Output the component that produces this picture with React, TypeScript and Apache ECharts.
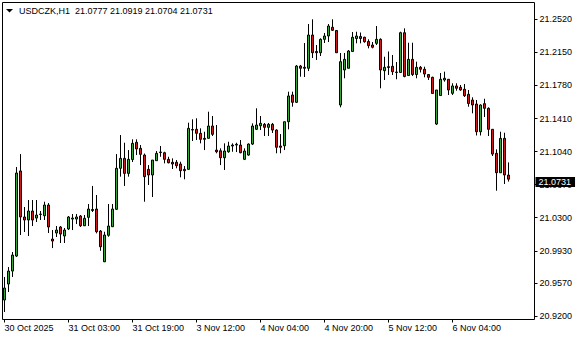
import { useEffect, useRef } from 'react';
import * as echarts from 'echarts';

const SYMBOL = 'USDCZK,H1';
const YEAR = '2025';

// trading hours shown per day (H1 bars)
const DAYS = [
  { day: '30 Oct', first: 11, last: 23 },
  { day: '31 Oct', first: 0, last: 22 },
  { day: '3 Nov', first: 0, last: 23 },
  { day: '4 Nov', first: 0, last: 23 },
  { day: '5 Nov', first: 0, last: 23 },
  { day: '6 Nov', first: 0, last: 18 },
];

const OPEN = [
  20.9379, 20.9558, 20.9703, 20.9871, 21.0823, 21.0308, 21.0274, 21.0375, 21.0296, 21.0336,
  21.0322, 21.0442, 21.0061, 21.0129, 21.0196, 21.0095, 21.0174, 21.0285, 21.0285, 21.0319,
  21.0210, 21.0304, 21.0392, 21.0397, 21.0151, 20.9807, 21.0103, 21.0199, 21.0394, 21.0853,
  21.0964, 21.0796, 21.0951, 21.1144, 21.1076, 21.1001, 21.0841, 21.0778, 21.0938, 21.1035,
  21.1027, 21.0953, 21.0920, 21.0920, 21.0901, 21.0841, 21.0841, 21.1281, 21.1289, 21.1244,
  21.1188, 21.1188, 21.1326, 21.1057, 21.1049, 21.0971, 21.1038, 21.1102, 21.1113, 21.1113,
  21.0953, 21.1001, 21.1124, 21.1289, 21.1329, 21.1345, 21.1311, 21.1345, 21.1281, 21.1102,
  21.1105, 21.1374, 21.1673, 21.1591, 21.1997, 21.1983, 21.1972, 21.2344, 21.2160, 21.2146,
  21.2296, 21.2333, 21.2431, 21.2395, 21.1561, 21.1953, 21.1972, 21.2160, 21.2305, 21.2328,
  21.2319, 21.2272, 21.2232, 21.2251, 21.2296, 21.1945, 21.1990, 21.1994, 21.1930, 21.1925,
  21.2370, 21.1891, 21.2072, 21.1902, 21.1983, 21.1961, 21.1902, 21.1871, 21.1348, 21.1667,
  21.1841, 21.1849, 21.1692, 21.1774, 21.1759, 21.1737, 21.1681, 21.1617, 21.1572, 21.1262,
  21.1576, 21.1524, 21.1289, 21.1020, 21.0803, 21.1188, 21.0777,
];

const HIGH = [
  20.9637, 20.9748, 20.9916, 21.0868, 21.1012, 21.0420, 21.0498, 21.0498, 21.0498, 21.0375,
  21.0479, 21.0464, 21.0162, 21.0207, 21.0207, 21.0185, 21.0319, 21.0341, 21.0341, 21.0330,
  21.0330, 21.0453, 21.0655, 21.0554, 21.0162, 21.0143, 21.0453, 21.0453, 21.1012, 21.1225,
  21.1139, 21.1057, 21.1177, 21.1177, 21.1113, 21.1018, 21.0889, 21.0945, 21.1046, 21.1102,
  21.1038, 21.0982, 21.0964, 21.0945, 21.0926, 21.0878, 21.1363, 21.1401, 21.1412, 21.1300,
  21.1262, 21.1486, 21.1438, 21.1337, 21.1076, 21.1132, 21.1150, 21.1132, 21.1139, 21.1169,
  21.1076, 21.1132, 21.1356, 21.1524, 21.1438, 21.1360, 21.1360, 21.1360, 21.1289, 21.1236,
  21.1374, 21.1710, 21.1710, 21.2009, 21.2009, 21.2255, 21.2467, 21.2520, 21.2232, 21.2307,
  21.2367, 21.2467, 21.2520, 21.2395, 21.2143, 21.2143, 21.2176, 21.2378, 21.2381, 21.2372,
  21.2325, 21.2296, 21.2266, 21.2445, 21.2307, 21.2101, 21.2160, 21.2121, 21.2042, 21.2381,
  21.2419, 21.2258, 21.2258, 21.2046, 21.1997, 21.1990, 21.1908, 21.1878, 21.1729, 21.1919,
  21.1934, 21.1849, 21.1804, 21.1804, 21.1785, 21.1796, 21.1729, 21.1647, 21.1617, 21.1569,
  21.1631, 21.1535, 21.1289, 21.1065, 21.1262, 21.1251, 21.0919,
];

const LOW = [
  20.9245, 20.9469, 20.9637, 20.9860, 21.0106, 21.0140, 21.0095, 21.0207, 21.0252, 21.0274,
  21.0274, 21.0129, 20.9960, 21.0084, 21.0017, 21.0017, 21.0162, 21.0162, 21.0229, 21.0196,
  21.0207, 21.0207, 21.0364, 21.0125, 20.9930, 20.9804, 21.0087, 21.0196, 21.0386, 21.0759,
  21.0655, 21.0759, 21.0923, 21.1001, 21.0889, 21.0479, 21.0666, 21.0531, 21.0938, 21.0982,
  21.0908, 21.0908, 21.0845, 21.0853, 21.0752, 21.0730, 21.0834, 21.1158, 21.1169, 21.1132,
  21.1057, 21.1188, 21.1214, 21.1021, 21.0889, 21.0834, 21.1027, 21.1038, 21.1035, 21.1021,
  21.0945, 21.0993, 21.1113, 21.1281, 21.1281, 21.1214, 21.1214, 21.1248, 21.1021, 21.1021,
  21.1057, 21.1289, 21.1542, 21.1583, 21.1878, 21.1874, 21.1941, 21.2087, 21.2065, 21.2109,
  21.2255, 21.2266, 21.2389, 21.2146, 21.1535, 21.1860, 21.1972, 21.2157, 21.2251, 21.2251,
  21.2258, 21.2195, 21.2195, 21.2232, 21.1748, 21.1841, 21.1897, 21.1897, 21.1849, 21.1919,
  21.1871, 21.1891, 21.1886, 21.1860, 21.1925, 21.1871, 21.1841, 21.1690, 21.1337, 21.1662,
  21.1822, 21.1673, 21.1673, 21.1721, 21.1721, 21.1651, 21.1542, 21.1468, 21.1220, 21.1220,
  21.1427, 21.1214, 21.0990, 21.0602, 21.0803, 21.0677, 21.0704,
];

const CLOSE = [
  20.9513, 20.9703, 20.9882, 21.0800, 21.0308, 21.0274, 21.0375, 21.0274, 21.0330, 21.0341,
  21.0442, 21.0196, 21.0039, 21.0162, 21.0117, 21.0162, 21.0308, 21.0296, 21.0308, 21.0210,
  21.0293, 21.0397, 21.0381, 21.0143, 20.9975, 21.0106, 21.0207, 21.0397, 21.0853, 21.0964,
  21.0796, 21.0953, 21.1132, 21.1069, 21.1009, 21.0759, 21.0778, 21.0945, 21.1020, 21.1029,
  21.0953, 21.0915, 21.0901, 21.0882, 21.0826, 21.0826, 21.1300, 21.1287, 21.1244, 21.1177,
  21.1177, 21.1326, 21.1233, 21.1038, 21.0971, 21.1046, 21.1102, 21.1113, 21.1121, 21.1027,
  21.1046, 21.1124, 21.1326, 21.1337, 21.1356, 21.1311, 21.1345, 21.1281, 21.1088, 21.1088,
  21.1374, 21.1662, 21.1591, 21.1997, 21.1972, 21.1972, 21.2344, 21.2146, 21.2146, 21.2296,
  21.2333, 21.2445, 21.2397, 21.2146, 21.2046, 21.2072, 21.2165, 21.2319, 21.2333, 21.2305,
  21.2269, 21.2225, 21.2207, 21.2296, 21.1953, 21.1983, 21.1981, 21.1934, 21.1925, 21.2370,
  21.1880, 21.2072, 21.1902, 21.1983, 21.1961, 21.1908, 21.1871, 21.1690, 21.1729, 21.1849,
  21.1860, 21.1729, 21.1774, 21.1748, 21.1729, 21.1665, 21.1578, 21.1561, 21.1262, 21.1561,
  21.1524, 21.1289, 21.1012, 21.0803, 21.1188, 21.0778, 21.0731,
];

const Y_TICK_LABELS = [
  '20.9200', '20.9570', '20.9930', '21.0300', '21.0670',
  '21.1040', '21.1410', '21.1780', '21.2150', '21.2520',
];
const Y_MIN = 20.9161;
const Y_MAX = 21.2708;
const PAD_BARS = 6; // empty chart shift on the right
const LABEL_EVERY = 16;

const GREEN = '#36a836';
const RED = '#d01818';
const FONT = '"Liberation Sans", Arial, sans-serif';

export default function App() {
  const ref = useRef<HTMLDivElement>(null);

  useEffect(() => {
    const chart = echarts.init(ref.current!, null, { renderer: 'svg' });

    const categories: string[] = [];
    DAYS.forEach((d) => {
      for (let h = d.first; h <= d.last; h++) {
        categories.push(`${d.day} ${String(h).padStart(2, '0')}:00`);
      }
    });
    const nData = categories.length;
    for (let k = 0; k < PAD_BARS; k++) categories.push(' '.repeat(k + 1));

    const showIdx = (index: number) => index % LABEL_EVERY === 0 && index < nData;
    const last = OPEN.length - 1;
    const header = `${SYMBOL}  ${[OPEN[last], HIGH[last], LOW[last], CLOSE[last]]
      .map((v) => v.toFixed(4))
      .join(' ')}`;
    const yTicks = Y_TICK_LABELS.map(Number);

    chart.setOption({
      animation: false,
      backgroundColor: '#fff',
      grid: {
        show: true,
        left: 2.5,
        top: 2.5,
        right: 45.5,
        bottom: 20.5,
        borderColor: '#000',
        borderWidth: 1,
        containLabel: false,
      },
      xAxis: {
        type: 'category',
        data: categories,
        boundaryGap: true,
        axisLine: { show: false },
        splitLine: { show: false },
        axisTick: {
          show: true,
          alignWithLabel: true,
          interval: showIdx,
          length: 3,
          lineStyle: { color: '#000', width: 1 },
        },
        axisLabel: {
          interval: showIdx,
          align: 'left',
          margin: 4,
          color: '#000',
          fontSize: 9,
          fontFamily: FONT,
          formatter: (value: string, index: number) =>
            index === 0 ? `${value.split(' ').slice(0, 2).join(' ')} ${YEAR}` : value,
        },
      },
      yAxis: {
        type: 'value',
        position: 'right',
        min: Y_MIN,
        max: Y_MAX,
        axisLine: { show: false },
        splitLine: { show: false },
        axisTick: {
          show: true,
          length: 3,
          customValues: yTicks,
          lineStyle: { color: '#000', width: 1 },
        },
        axisLabel: {
          customValues: yTicks,
          margin: 5,
          color: '#000',
          fontSize: 9,
          fontFamily: FONT,
          formatter: (v: number) => v.toFixed(4),
        },
      },
      graphic: [
        {
          type: 'polygon',
          shape: { points: [[6, 9], [13, 9], [9.5, 12.5]] },
          style: { fill: '#000' },
          silent: true,
        },
        {
          type: 'text',
          left: 19,
          top: 6,
          style: { text: header, fill: '#000', font: `9px ${FONT}` },
          silent: true,
        },
      ],
      series: [
        {
          type: 'candlestick',
          data: OPEN.map((o, i) => [o, CLOSE[i], LOW[i], HIGH[i]]),
          barWidth: 2,
          itemStyle: {
            color: GREEN,
            color0: RED,
            borderColor: '#000',
            borderColor0: '#000',
            borderColorDoji: '#000',
            borderWidth: 1,
          },
          emphasis: { disabled: true },
          silent: true,
          markLine: {
            silent: true,
            symbol: ['none', 'none'],
            lineStyle: { color: 'rgba(0,0,0,0)', width: 0, type: 'solid' },
            emphasis: { disabled: true },
            label: {
              show: true,
              position: 'end',
              distance: 1,
              formatter: CLOSE[last].toFixed(4),
              color: '#fff',
              backgroundColor: '#000',
              padding: [1, 4, 0, 3],
              fontSize: 9,
              fontFamily: FONT,
              opacity: 1,
            },
            data: [{ yAxis: CLOSE[last] }],
          },
        },
      ],
    });

    return () => chart.dispose();
  }, []);

  return (
    <div
      ref={ref}
      style={{ position: 'fixed', left: 0, top: 0, width: 580, height: 340, background: '#fff' }}
    />
  );
}
